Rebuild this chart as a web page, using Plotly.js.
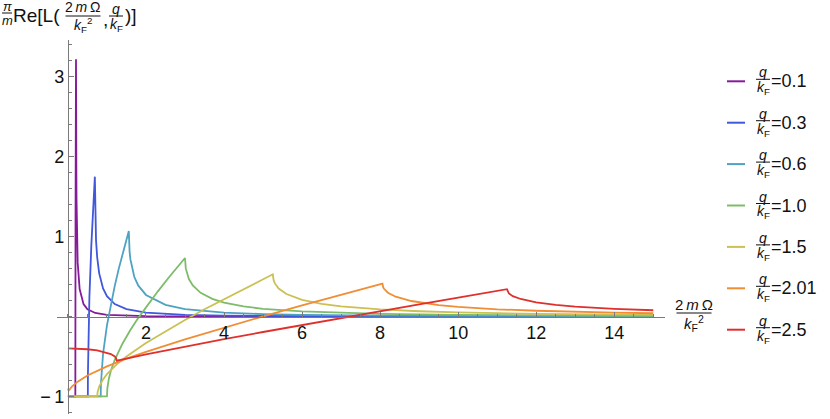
<!DOCTYPE html>
<html lang="en">
<head>
<meta charset="UTF-8">
<title>Re L plot</title>
<script src="https://cdn.plot.ly/plotly-3.0.1.min.js"></script>
<style>
    html, body { margin: 0; padding: 0; background: #fff; }
    #plot { width: 830px; height: 419px; }
</style>
</head>
<body>
<div id="plot"></div>
<script>
    // q/kF for each curve, and its colour
    var qLabels = ['0.1', '0.3', '0.6', '1.0', '1.5', '2.01', '2.5'];
    var colors = ['#861b9a', '#4157dc', '#4ea2c2', '#7dbc69', '#cbc052', '#f08d35', '#e0302c'];

    // x = 2mΩ/kF^2 , y = π/m Re[L]
    var x01 = [0, 0.19, 0.195, 0.2, 0.205, 0.207, 0.215, 0.22, 0.25, 0.3, 0.4, 0.5, 0.7, 1, 1.5, 2, 3, 5, 8, 15];
    var y01 = [-1, -1, 1.25, 2.2, 2.95, 3.22, 1.9, 1.48, 0.674, 0.343, 0.155, 0.091, 0.044, 0.021, 0.009, 0.005, 0.0022, 0.0008, 0.0003, 0.0001];

    var x03 = [0, 0.51, 0.512, 0.52, 0.53, 0.55, 0.6, 0.65, 0.69, 0.72, 0.75, 0.8, 0.9, 1.0, 1.2, 1.5, 2, 3, 4, 6, 10, 15];
    var y03 = [-1, -1, -0.728, -0.389, -0.132, 0.237, 0.893, 1.406, 1.75, 0.956, 0.738, 0.543, 0.352, 0.255, 0.156, 0.092, 0.048, 0.02, 0.0113, 0.005, 0.0018, 0.0008];

    var x06 = [0, 0.84, 0.845, 0.86, 0.9, 1.0, 1.1, 1.2, 1.3, 1.4, 1.5, 1.56, 1.58, 1.6, 1.7, 1.8, 2.0, 2.5, 3, 4, 5, 6, 8, 10, 12, 15];
    var y06 = [-1, -1, -0.848, -0.694, -0.466, -0.111, 0.155, 0.384, 0.593, 0.788, 0.974, 1.07, 0.812, 0.718, 0.497, 0.389, 0.270, 0.145, 0.093, 0.049, 0.030, 0.020, 0.0113, 0.0072, 0.005, 0.0032];

    var x10 = [0, 1, 1.01, 1.05, 1.1, 1.2, 1.4, 1.6, 1.8, 2, 2.3, 2.6, 2.8, 3, 3.02, 3.05, 3.1, 3.2, 3.4, 3.7, 4, 4.5, 5, 6, 7, 8, 10, 12, 15];
    var y10 = [-1, -1, -0.900, -0.775, -0.680, -0.542, -0.337, -0.169, -0.020, 0.118, 0.312, 0.497, 0.616, 0.732, 0.602, 0.536, 0.469, 0.388, 0.296, 0.220, 0.173, 0.126, 0.096, 0.063, 0.045, 0.033, 0.021, 0.014, 0.009];

    var x15 = [0, 0.75, 0.76, 0.8, 0.9, 1.0, 1.25, 1.5, 2, 2.5, 3, 3.5, 4, 4.5, 5, 5.25, 5.27, 5.3, 5.4, 5.6, 6, 6.5, 7, 8, 9, 10, 12, 15];
    var y15 = [-1, -1, -0.946, -0.878, -0.787, -0.722, -0.599, -0.5, -0.331, -0.182, -0.043, 0.090, 0.218, 0.344, 0.467, 0.528, 0.455, 0.417, 0.350, 0.281, 0.208, 0.158, 0.126, 0.088, 0.066, 0.051, 0.034, 0.021];

    var x201 = [0, 0.02, 0.1, 0.25, 0.5, 1, 1.5, 2, 3, 4, 5, 6, 7, 8, 8.06, 8.08, 8.1, 8.2, 8.4, 8.8, 9.5, 10, 11, 12, 13, 14, 15];
    var y201 = [-0.900, -0.930, -0.877, -0.815, -0.739, -0.624, -0.528, -0.442, -0.285, -0.138, 0.002, 0.139, 0.273, 0.405, 0.412, 0.365, 0.347, 0.298, 0.248, 0.194, 0.143, 0.120, 0.090, 0.072, 0.058, 0.049, 0.041];

    var x25 = [0, 0.25, 0.5, 0.75, 1.0, 1.1, 1.2, 1.23, 1.25, 1.3, 1.5, 2, 3, 4, 5, 6, 7, 8, 9, 10, 11, 11.25, 11.3, 11.4, 11.6, 12, 12.5, 13, 14, 15];
    var y25 = [-0.4, -0.402, -0.410, -0.425, -0.452, -0.470, -0.501, -0.519, -0.553, -0.547, -0.526, -0.475, -0.377, -0.284, -0.194, -0.105, -0.018, 0.068, 0.153, 0.237, 0.321, 0.342, 0.289, 0.255, 0.219, 0.177, 0.146, 0.124, 0.096, 0.078];

    var xData = [x01, x03, x06, x10, x15, x201, x25];
    var yData = [y01, y03, y06, y10, y15, y201, y25];

    var xTicks = [2, 4, 6, 8, 10, 12, 14];
    var yTicks = [-1, 1, 2, 3];
    var yTickText = ['\u2212\u20091', '1', '2', '3'];

    var W = 830, H = 419;
    var M = {l: 57, r: 165, t: 40, b: 5};
    var xRange = [-0.28, 15.3], yRange = [-1.22, 3.46];
    var plotW = W - M.l - M.r, plotH = H - M.t - M.b;

    // pixel -> paper
    function px(x) { return (x - M.l) / plotW; }
    function py(y) { return 1 - (y - M.t) / plotH; }

    var FONT = 'Liberation Sans, Arial, sans-serif';
    var axisColor = '#7a7a7a';

    var annotations = [];
    var shapes = [];

    function label(x, y, text, size, anchor) {
        annotations.push({
            xref: 'paper', yref: 'paper', x: px(x), y: py(y),
            text: text, showarrow: false, borderpad: 0,
            xanchor: anchor || 'center', yanchor: 'middle',
            font: {family: FONT, size: size, color: '#111'}
        });
    }

    function bar(x0, x1, y, color, width) {
        shapes.push({
            type: 'line', xref: 'paper', yref: 'paper',
            x0: px(x0), x1: px(x1), y0: py(y), y1: py(y),
            line: {color: color || '#111', width: width || 1}
        });
    }

    // stacked fraction, bar centred at (cx, cy)
    function frac(cx, cy, w, num, den, size, dUp, dDown) {
        label(cx, cy - dUp, num, size);
        bar(cx - w / 2, cx + w / 2, cy);
        label(cx, cy + dDown, den, size);
    }

    var kF = '<i>k</i><sub>F</sub>';

    // y axis title
    frac(7, 13, 10, '<i>\u03c0</i>', '<i>m</i>', 13, 7, 7);
    label(12, 16, 'Re[L(', 19, 'left');
    frac(83, 16, 35, '2\u2009<i>m</i>\u2009\u03a9', kF + '<sup>2</sup>', 14, 9, 9);
    label(102, 19, ',', 19, 'left');
    frac(116, 16, 14, '<i>q</i>', kF, 14, 7.5, 9);
    label(124, 16, ')]', 19, 'left');

    // x axis title
    frac(694, 313, 35, '2\u2009<i>m</i>\u2009\u03a9', kF + '<sup>2</sup>', 15, 9, 10);

    // legend
    qLabels.forEach(function (q, i) {
        var yb = 79.3 + 41.4 * i;
        bar(727, 745, yb + 2, colors[i], 2);
        frac(763, yb, 14, '<i>q</i>', kF, 14, 7, 9);
        label(770, yb + 2, '=' + q, 18, 'left');
    });

    var traces = xData.map(function (xs, i) {
        return {
            x: xs, y: yData[i],
            type: 'scatter', mode: 'lines',
            line: {color: colors[i], width: 1.8},
            name: 'q/kF=' + qLabels[i],
            showlegend: false,
            hoverinfo: 'skip'
        };
    });

    var layout = {
        width: W, height: H,
        margin: M,
        paper_bgcolor: '#fff', plot_bgcolor: '#fff',
        showlegend: false,
        font: {family: FONT, size: 18, color: '#111'},
        xaxis: {
            range: xRange, anchor: 'free',
            position: (0 - yRange[0]) / (yRange[1] - yRange[0]),
            showgrid: false, zeroline: false,
            showline: true, linecolor: axisColor, linewidth: 1,
            tickmode: 'array', tickvals: xTicks,
            ticks: 'inside', ticklen: 5, tickcolor: axisColor,
            minor: {dtick: 0.5, tick0: 0, ticks: 'inside', ticklen: 3, tickcolor: axisColor},
            tickfont: {family: FONT, size: 18, color: '#111'}
        },
        yaxis: {
            range: yRange, anchor: 'free',
            position: (0 - xRange[0]) / (xRange[1] - xRange[0]),
            showgrid: false, zeroline: false,
            showline: true, linecolor: axisColor, linewidth: 1,
            tickmode: 'array', tickvals: yTicks, ticktext: yTickText,
            ticks: 'inside', ticklen: 5, tickcolor: axisColor,
            minor: {dtick: 0.2, tick0: 0, ticks: 'inside', ticklen: 3, tickcolor: axisColor},
            tickfont: {family: FONT, size: 18, color: '#111'}
        },
        annotations: annotations,
        shapes: shapes
    };

    Plotly.newPlot('plot', traces, layout, {displayModeBar: false, staticPlot: true});
</script>
</body>
</html>
